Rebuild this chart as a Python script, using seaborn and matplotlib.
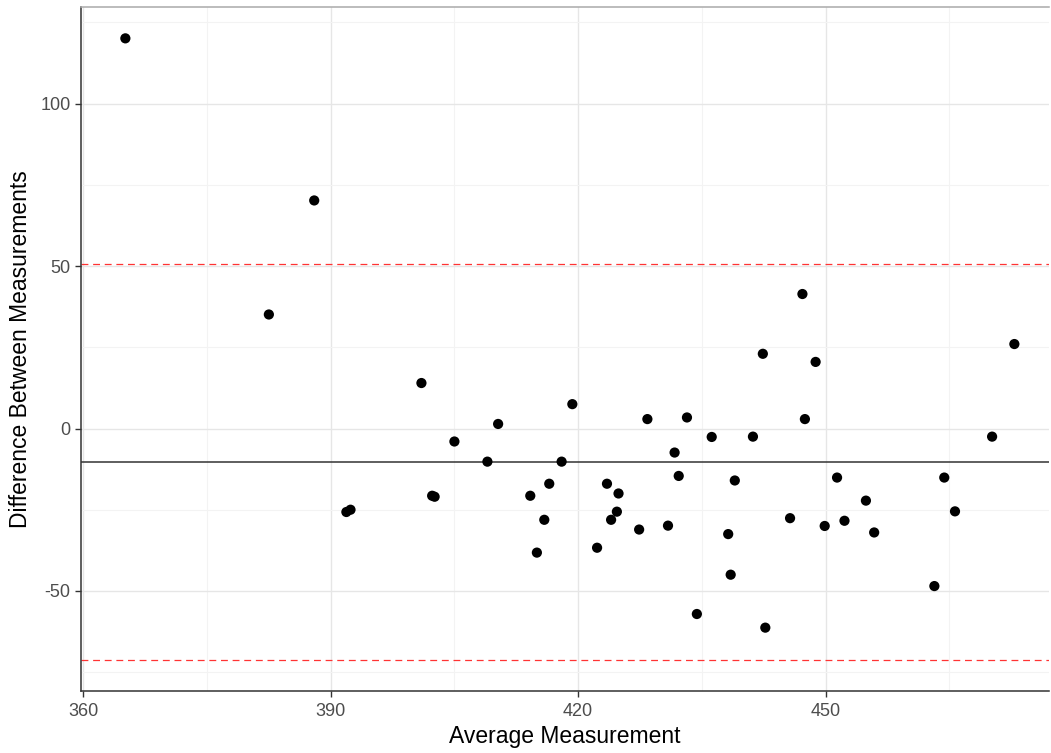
"""
Bland-Altman style agreement plot: difference vs. average of two measurements.
Values read off the reference picture.
"""

import numpy as np
import pandas as pd
import matplotlib

matplotlib.use("Agg")
import matplotlib.pyplot as plt
import seaborn as sns
from matplotlib.ticker import MultipleLocator

# average of the two measurements
avg_measurement = [
    365.1, 388.0, 382.5, 401.0, 391.9, 392.4, 402.3, 402.6, 405.0, 409.0,
    410.3, 414.2, 415.0, 415.9, 416.5, 418.0, 419.3, 422.3, 423.5, 424.0,
    424.7, 424.9, 427.4, 428.4, 430.9, 431.7, 432.2, 433.2, 434.4, 436.2,
    438.2, 438.5, 439.0, 441.2, 442.4, 442.7, 445.7, 447.2, 447.5, 448.8,
    449.9, 451.4, 452.3, 454.9, 455.9, 463.2, 464.4, 465.7, 470.2, 472.9,
]
# difference between the two measurements
diff_measurement = [
    120.1, 70.2, 35.1, 14.0, -25.7, -25.0, -20.7, -21.0, -4.0, -10.2,
    1.4, -20.7, -38.2, -28.1, -17.0, -10.2, 7.5, -36.7, -17.0, -28.1,
    -25.6, -20.0, -31.1, 2.9, -29.9, -7.4, -14.6, 3.4, -57.1, -2.6,
    -32.5, -45.0, -16.0, -2.5, 23.0, -61.3, -27.6, 41.4, 2.9, 20.5,
    -30.0, -15.1, -28.4, -22.2, -32.0, -48.5, -15.1, -25.5, -2.5, 26.0,
]

mean_diff = -10.4
upper_loa = 50.5
lower_loa = -71.3

x_ticks = [360, 390, 420, 450]
y_ticks = [-50, 0, 50, 100]


def plot_agreement(df: pd.DataFrame, out_path: str):
    sns.set_style("white")
    plt.rcParams["font.family"] = ["Liberation Sans", "DejaVu Sans"]

    fig = plt.figure(figsize=(10.51, 7.53), dpi=100)
    ax = fig.add_axes([81 / 1051, 1 - 691 / 753, (1049 - 81) / 1051, (691 - 7) / 753])

    # grid like theme_bw: light major lines, fainter minor lines
    ax.xaxis.set_major_locator(MultipleLocator(30))
    ax.xaxis.set_minor_locator(MultipleLocator(15))
    ax.yaxis.set_major_locator(MultipleLocator(50))
    ax.yaxis.set_minor_locator(MultipleLocator(25))
    ax.grid(which="major", color="#E6E6E6", linewidth=1.0)
    ax.grid(which="minor", color="#F3F3F3", linewidth=0.8)
    ax.set_axisbelow(True)

    ax.axhline(mean_diff, color="#333333", linewidth=1.1, zorder=2)
    for lim in (upper_loa, lower_loa):
        ax.axhline(lim, color="#FF3333", linewidth=0.9, linestyle=(0, (5.5, 3.8)), zorder=2)

    sns.scatterplot(
        data=df, x="avg", y="diff", ax=ax,
        color="black", s=54, edgecolor="none", zorder=3, legend=False,
    )

    ax.set_xlim(359.72, 477.1)
    ax.set_ylim(-80.8, 129.75)
    ax.set_xticks(x_ticks)
    ax.set_yticks(y_ticks)
    ax.set_xticklabels([str(v) for v in x_ticks])
    ax.set_yticklabels([str(v) for v in y_ticks])

    ax.set_xlabel("Average Measurement", fontsize=16.5, color="black", labelpad=3)
    ax.set_ylabel("Difference Between Measurements", fontsize=16.5, color="black", labelpad=6)
    ax.tick_params(axis="both", which="major", labelsize=13, labelcolor="#4D4D4D",
                   length=4, width=1, color="#333333", direction="out",
                   bottom=True, left=True)
    ax.tick_params(axis="x", which="major", pad=5)
    ax.tick_params(which="minor", length=0)

    for side in ("left", "bottom"):
        ax.spines[side].set_color("#333333")
        ax.spines[side].set_linewidth(1.1)
    ax.spines["top"].set_color("#AAAAAA")
    ax.spines["top"].set_linewidth(1.1)
    ax.spines["right"].set_visible(False)

    fig.savefig(out_path, dpi=100)
    plt.close(fig)


if __name__ == "__main__":
    df = pd.DataFrame({"avg": avg_measurement, "diff": diff_measurement})
    plot_agreement(df, "out.png")
